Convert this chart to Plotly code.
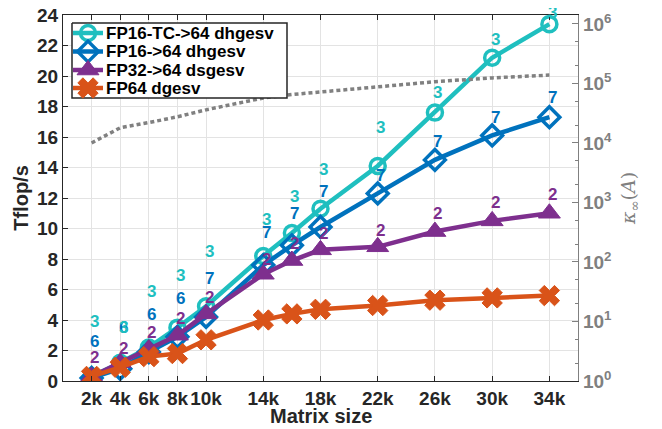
import plotly.graph_objects as go

# ---- data ----
matrix_size = [2000, 4000, 6000, 8000, 10000, 14000, 16000, 18000, 22000, 26000, 30000, 34000]
tick_vals = [2000, 4000, 6000, 8000, 10000, 14000, 18000, 22000, 26000, 30000, 34000]
tick_text = ["2k", "4k", "6k", "8k", "10k", "14k", "18k", "22k", "26k", "30k", "34k"]

fp16tc = [0.3, 1.2, 2.2, 3.5, 4.9, 8.2, 9.7, 11.3, 14.1, 17.6, 21.2, 23.4]
fp16 = [0.2, 0.8, 1.9, 2.9, 4.2, 7.6, 8.9, 10.1, 12.3, 14.5, 16.1, 17.3]
fp32 = [0.3, 1.2, 2.1, 3.0, 4.4, 7.0, 7.9, 8.6, 8.8, 9.8, 10.5, 11.0]
fp64 = [0.3, 0.9, 1.6, 1.8, 2.7, 4.0, 4.4, 4.7, 4.95, 5.3, 5.45, 5.6]
cond = [1.0e4, 1.8e4, 2.2e4, 2.75e4, 3.6e4, 5.7e4, 6.5e4, 7.2e4, 8.7e4, 1.07e5, 1.24e5, 1.38e5]

iters_fp16tc = [3, 3, 3, 3, 3, 3, 3, 3, 3, 3, 3, 3]
iters_fp16 = [6, 6, 6, 6, 7, 7, 7, 7, 7, 7, 7, 7]
iters_fp32 = [2, 2, 2, 2, 2, 2, 2, 2, 2, 2, 2, 2]

# label anchor heights (Tflop/s units) as placed in the figure
label_y_fp16tc = [3.87, 3.48, 5.84, 6.95, 8.46, 10.6, 12.07, 13.84, 16.6, 18.9, 22.4, 24.15]
label_y_fp16 = [2.56, 3.5, 4.33, 5.44, 6.75, 9.77, 11.0, 12.4, 13.5, 15.7, 17.3, 18.6]
label_y_fp32 = [1.57, 2.1, 3.15, 4.13, 5.5, 8.0, 9.0, 9.7, 9.9, 11.0, 11.7, 12.2]

series_names = ["FP16-TC->64 dhgesv", "FP16->64 dhgesv", "FP32->64 dsgesv", "FP64 dgesv"]

Y_MAX = 24

C_TC = "#1fbfbf"
C_16 = "#0072BD"
C_32 = "#7E2F8E"
C_64 = "#D95319"
C_GR = "#808080"
C_AX = "#262626"
FONT = "Liberation Sans"

# page offset (body margin) and plot-area geometry in window pixels
OFF = 8
W, H = 662, 429
L, R, T, B = 63 - OFF, 578 - OFF, 15 - OFF, 381 - OFF

markers = [
    dict(symbol="circle-open", size=15, color=C_TC, line=dict(width=3.5, color=C_TC)),
    dict(symbol="diamond-open", size=16, color=C_16, line=dict(width=3.5, color=C_16)),
    dict(symbol="triangle-up", size=19, color=C_32, line=dict(width=1, color=C_32)),
    dict(symbol="x", size=18, color=C_64, line=dict(width=1, color=C_64)),
]
colors = [C_TC, C_16, C_32, C_64]
values = [fp16tc, fp16, fp32, fp64]

fig = go.Figure()

fig.add_trace(go.Scatter(
    x=matrix_size, y=cond, yaxis="y2", mode="lines", showlegend=False,
    line=dict(color=C_GR, width=3.5, dash="4px,3px"), hoverinfo="skip"))

for name, vals, col, mk in zip(series_names, values, colors, markers):
    fig.add_trace(go.Scatter(
        x=matrix_size, y=vals, mode="lines+markers", name=name, showlegend=False,
        line=dict(color=col, width=4.5), marker=mk))

annotations = []
for ys, its, col in [
    (label_y_fp32, iters_fp32, C_32),
    (label_y_fp16, iters_fp16, C_16),
    (label_y_fp16tc, iters_fp16tc, C_TC),
]:
    for xv, yv, it in zip(matrix_size, ys, its):
        # y in paper units (the left axis spans 0..Y_MAX over the full domain)
        annotations.append(dict(
            x=xv, y=yv / Y_MAX, xref="x", yref="paper", text=str(it), showarrow=False,
            xanchor="center", yanchor="middle",
            xshift=3, font=dict(family=FONT, size=17, color=col, weight="bold")))

# ---- legend drawn in an overlay whose units are window pixels ----
lx0, ly0, lx1, ly1 = 72, 23, 287, 98
leg_rows = [33, 51.5, 70, 88]
fig.add_trace(go.Scatter(
    x=[lx0, lx1, lx1, lx0, lx0], y=[ly0, ly0, ly1, ly1, ly0], xaxis="x2", yaxis="y3",
    mode="lines", fill="toself", fillcolor="white", showlegend=False, hoverinfo="skip",
    line=dict(color=C_AX, width=1.5)))
for name, col, mk, yy in zip(series_names, colors, markers, leg_rows):
    fig.add_trace(go.Scatter(
        x=[73, 88, 103], y=[yy, yy, yy], xaxis="x2", yaxis="y3",
        mode="lines", showlegend=False, hoverinfo="skip",
        line=dict(color=col, width=4.5)))
    fig.add_trace(go.Scatter(
        x=[88], y=[yy], xaxis="x2", yaxis="y3",
        mode="markers", showlegend=False, hoverinfo="skip", marker=mk))
    annotations.append(dict(
        x=104, y=yy, xref="x2", yref="y3", text=name, showarrow=False,
        xanchor="left", yanchor="middle",
        font=dict(family=FONT, size=17, color="#000000", weight="bold")))

# x-axis title placed as an annotation (window pixel y = 416)
annotations.append(dict(
    x=0.5, y=(B - (416 - OFF)) / (B - T), xref="paper", yref="paper",
    text="Matrix size", showarrow=False, xanchor="center", yanchor="middle",
    font=dict(family=FONT, size=20, color=C_AX, weight="bold")))

fig.update_layout(
    width=W, height=H,
    margin=dict(l=L, r=W - R, t=T, b=H - B, autoexpand=False),
    paper_bgcolor="white", plot_bgcolor="white",
    font=dict(family=FONT, size=18, color=C_AX),
    showlegend=False,
    xaxis=dict(
        range=[0, 36000], tickvals=tick_vals, ticktext=tick_text, tickangle=0,
        showgrid=True, gridcolor="#e3e3e3", gridwidth=1,
        ticks="inside", ticklen=5, tickcolor=C_AX,
        showline=True, linecolor=C_AX, linewidth=1.2, mirror="ticks",
        tickfont=dict(family=FONT, size=19, color=C_AX, weight="bold"),
        zeroline=False, automargin=False),
    yaxis=dict(
        range=[0, Y_MAX], dtick=2, ticklabeloverflow="allow",
        showgrid=True, gridcolor="#e3e3e3", gridwidth=1,
        ticks="inside", ticklen=5, tickcolor=C_AX,
        showline=True, linecolor=C_AX, linewidth=1.2,
        tickfont=dict(family=FONT, size=19, color=C_AX, weight="bold"),
        title=dict(text="Tflop/s", standoff=2,
                   font=dict(family=FONT, size=20, color=C_AX, weight="bold")),
        zeroline=False, automargin=False),
    yaxis2=dict(
        type="log", range=[0, 6.15], overlaying="y", side="right",
        tickvals=[1, 10, 100, 1000, 1e4, 1e5, 1e6], ticklabeloverflow="allow",
        ticktext=["10<sup>0</sup>", "10<sup>1</sup>", "10<sup>2</sup>", "10<sup>3</sup>",
                  "10<sup>4</sup>", "10<sup>5</sup>", "10<sup>6</sup>"],
        showgrid=False, zeroline=False,
        ticks="inside", ticklen=6, tickcolor=C_GR,
        minor=dict(ticks="inside", ticklen=3, tickcolor=C_GR, showgrid=False),
        showline=True, linecolor=C_GR, linewidth=1.2,
        tickfont=dict(family=FONT, size=19, color=C_GR, weight="bold"),
        title=dict(text="<i>κ</i><sub>∞</sub>(<i>A</i>)", standoff=10,
                   font=dict(family="DejaVu Serif", size=19, color=C_GR)),
        automargin=False),
    xaxis2=dict(range=[L + OFF, R + OFF], overlaying="x", visible=False, fixedrange=True),
    yaxis3=dict(range=[B + OFF, T + OFF], overlaying="y", visible=False, fixedrange=True),
    annotations=annotations,
)

fig.write_html("out.html")
